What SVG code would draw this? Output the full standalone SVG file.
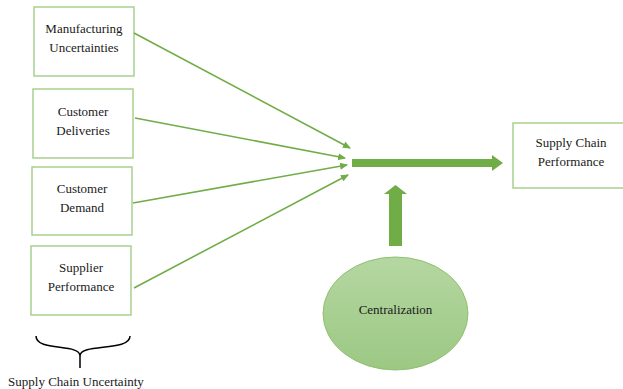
<svg xmlns="http://www.w3.org/2000/svg" width="623" height="389" viewBox="0 0 623 389">
<defs>
<style>
.box{fill:#fff;stroke:#a9d18e;stroke-width:1.5}
.t{font-family:"Liberation Serif","Times New Roman",serif;font-size:13px;fill:#1a1a1a;text-anchor:middle}
.c{stroke:#70ad47;stroke-width:1.6;fill:none}
</style>
<marker id="ah" markerWidth="8" markerHeight="8" refX="7" refY="4" orient="auto" markerUnits="userSpaceOnUse">
<path d="M0,0.5 L8,4 L0,7.5 z" fill="#70ad47"/>
</marker>
<linearGradient id="eg" x1="0" y1="0" x2="0" y2="1">
<stop offset="0" stop-color="#b5d7a2"/>
<stop offset="1" stop-color="#9cc883"/>
</linearGradient>
</defs>
<rect width="623" height="389" fill="#fff"/>
<g id="n1"><rect class="box" x="34" y="7" width="100" height="69"/><text class="t" x="84" y="33">Manufacturing</text><text class="t" x="84" y="52">Uncertainties</text></g>
<g id="n2"><rect class="box" x="33" y="89" width="100" height="69"/><text class="t" x="83" y="116">Customer</text><text class="t" x="83" y="135">Deliveries</text></g>
<g id="n3"><rect class="box" x="32" y="167" width="100" height="68"/><text class="t" x="82" y="193">Customer</text><text class="t" x="82" y="212">Demand</text></g>
<g id="n4"><rect class="box" x="31" y="246" width="100" height="69"/><text class="t" x="81" y="272">Supplier</text><text class="t" x="81" y="291">Performance</text></g>
<g id="perf"><rect class="box" x="513" y="123" width="112" height="65"/><text class="t" x="571" y="147">Supply Chain</text><text class="t" x="571" y="166">Performance</text></g>
<g id="central"><ellipse cx="395.5" cy="313.5" rx="72.5" ry="56.5" fill="url(#eg)" stroke="#8fc16f" stroke-width="1"/><text class="t" x="395.5" y="314">Centralization</text></g>
<g id="brace"><path d="M36,336 C36,352 80,343 80,356 L80,368 M80,356 C80,343 130,352 130,336" fill="none" stroke="#000" stroke-width="1.5"/><text class="t" x="76" y="386">Supply Chain Uncertainty</text></g>
<g id="connectors">
<line class="c" x1="134" y1="33" x2="350" y2="148" marker-end="url(#ah)"/>
<line class="c" x1="135" y1="118" x2="345" y2="158" marker-end="url(#ah)"/>
<line class="c" x1="133" y1="203" x2="347" y2="165" marker-end="url(#ah)"/>
<line class="c" x1="134" y1="288" x2="348" y2="175" marker-end="url(#ah)"/>
<path d="M352,159 L492,159 L492,155 L503,163 L492,171 L492,167 L352,167 z" fill="#70ad47"/>
<path d="M389,246 L389,194 L384,194 L395.5,185 L407,194 L402,194 L402,246 z" fill="#70ad47"/>
</g>
</svg>
